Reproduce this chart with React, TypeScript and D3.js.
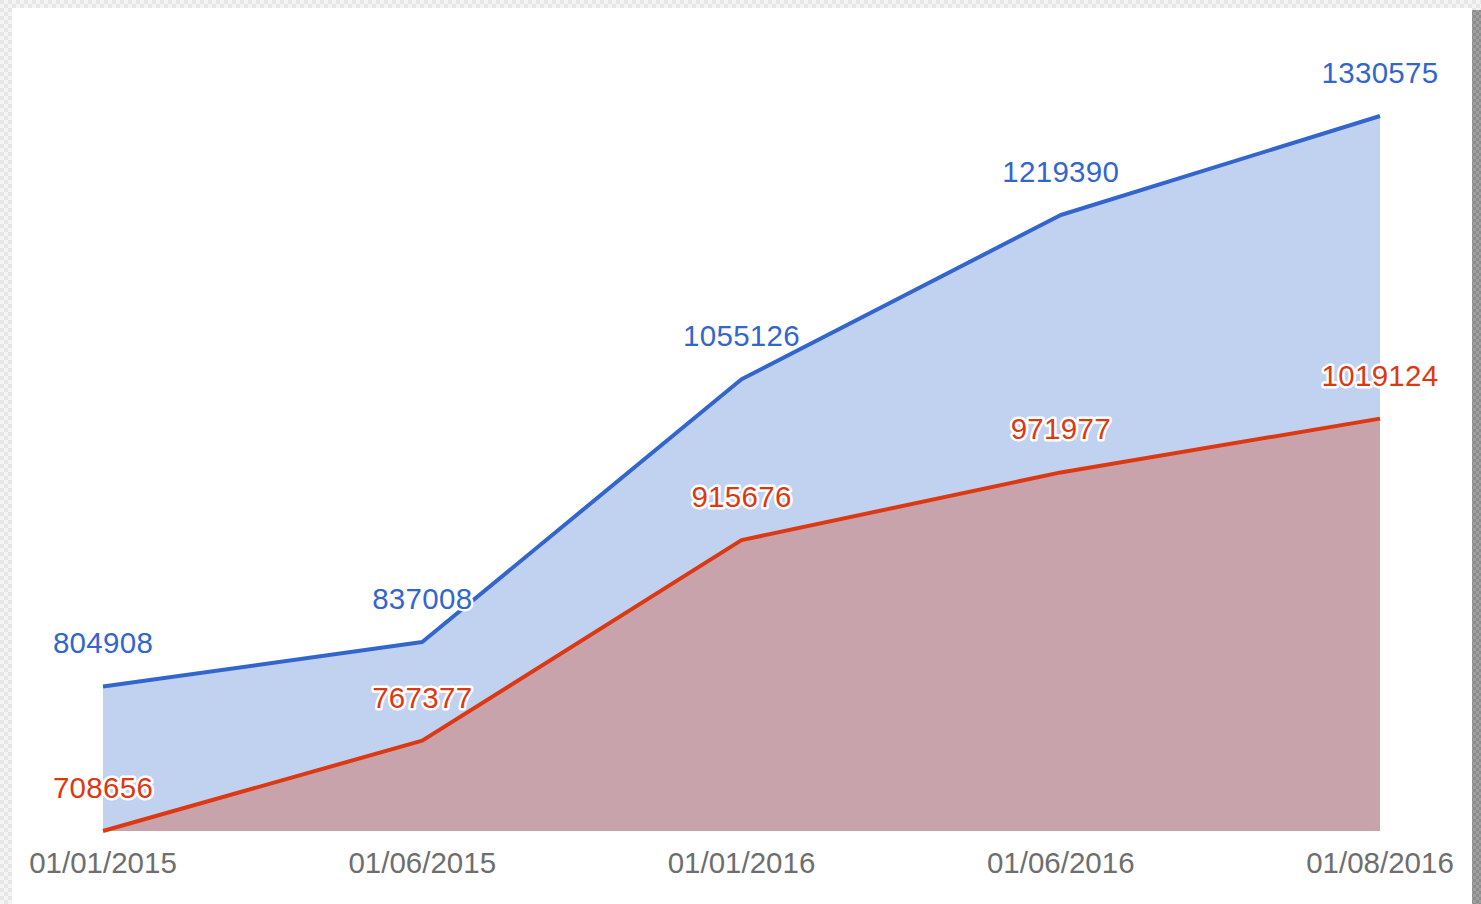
import React from "react";
import * as d3 from "d3";

const categories = ["01/01/2015", "01/06/2015", "01/01/2016", "01/06/2016", "01/08/2016"];
const blueValues = [804908, 837008, 1055126, 1219390, 1330575];
const redValues = [708656, 767377, 915676, 971977, 1019124];

const W = 1481;
const H = 904;
const BLUE = "#3366cc";
const RED = "#dc3912";

export default function App() {
  const x = d3.scalePoint<string>().domain(categories).range([103, 1380]);
  const y = d3.scaleLog().domain([708656, 1330575]).range([831, 116]);
  const baseline = 831;

  const mkArea = (vals: number[]) =>
    d3
      .area<number>()
      .x((_, i) => x(categories[i]) as number)
      .y0(baseline)
      .y1((d) => y(d))(vals) as string;
  const mkLine = (vals: number[]) =>
    d3
      .line<number>()
      .x((_, i) => x(categories[i]) as number)
      .y((d) => y(d))(vals) as string;

  const font = "'Liberation Sans', Arial, sans-serif";

  const labels = (vals: number[], color: string) =>
    vals.map((v, i) => (
      <text
        key={color + i}
        x={x(categories[i]) as number}
        y={y(v) - 33}
        textAnchor="middle"
        fontFamily={font}
        fontSize={29.5}
        letterSpacing={0.3}
        fill={color}
        stroke="#ffffff"
        strokeWidth={5}
        strokeLinejoin="round"
        style={{ paintOrder: "stroke" }}
      >
        {v}
      </text>
    ));

  return (
    <svg
      width={W}
      height={H}
      style={{ position: "absolute", left: 0, top: 0, display: "block" }}
    >
      <defs>
        <pattern id="checkLight" width="8" height="8" patternUnits="userSpaceOnUse">
          <rect width="8" height="8" fill="#f4f4f4" />
          <rect width="4" height="4" fill="#e6e6e6" />
          <rect x="4" y="4" width="4" height="4" fill="#e6e6e6" />
        </pattern>
        <pattern id="checkDark" width="6" height="6" patternUnits="userSpaceOnUse">
          <rect width="6" height="6" fill="#a0a0a0" />
          <rect width="3" height="3" fill="#8c8c8c" />
          <rect x="3" y="3" width="3" height="3" fill="#8c8c8c" />
        </pattern>
      </defs>
      <rect x={0} y={0} width={W} height={H} fill="url(#checkLight)" />
      <rect x={1472} y={10} width={9} height={H - 10} fill="url(#checkDark)" />
      <rect x={12} y={8} width={1460} height={H - 8} fill="#ffffff" />

      <path d={mkArea(blueValues)} fill={BLUE} fillOpacity={0.3} />
      <path d={mkArea(redValues)} fill={RED} fillOpacity={0.3} />
      <path d={mkLine(blueValues)} fill="none" stroke={BLUE} strokeWidth={4} strokeLinejoin="round" />
      <path d={mkLine(redValues)} fill="none" stroke={RED} strokeWidth={4} strokeLinejoin="round" />

      {labels(blueValues, BLUE)}
      {labels(redValues, RED)}

      {categories.map((c) => (
        <text
          key={c}
          x={x(c) as number}
          y={873}
          textAnchor="middle"
          fontFamily={font}
          fontSize={29.5}
          fill="#6e6e6e"
        >
          {c}
        </text>
      ))}
    </svg>
  );
}
